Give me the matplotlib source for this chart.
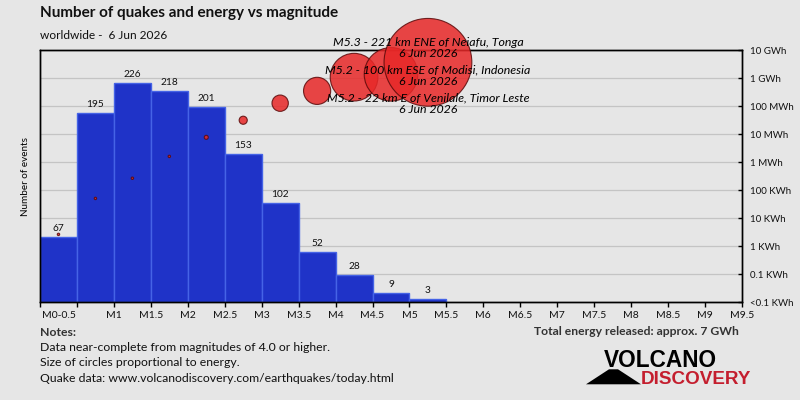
"""Number of quakes and energy vs magnitude (worldwide, 6 Jun 2026)."""

import numpy as np
import matplotlib.pyplot as plt
from matplotlib.patches import Polygon

BG = "#e6e6e6"
BAR_FACE = "#1f33c8"
BAR_EDGE = "#4563e6"
BUBBLE_FACE = "#e82828"
BUBBLE_EDGE = "#5a0a0a"
LOGO_RED = "#c41e2e"

BIN_STARTS = [0.0, 0.5, 1.0, 1.5, 2.0, 2.5, 3.0, 3.5, 4.0, 4.5, 5.0]
COUNTS = [67, 195, 226, 218, 201, 153, 102, 52, 28, 9, 3]
# energy released per magnitude bin, kWh
ENERGY_KWH = [2.6, 50, 263, 1585, 7600, 31000, 126000, 347000, 1070000, 1350000, 3630000]

XTICKS = [i * 0.5 for i in range(20)]
XTICK_LABELS = ["", ""] + [f"M{m:g}" for m in XTICKS[2:]]
FIRST_BIN_LABEL = "M0-0.5"
ENERGY_LABELS = ["<0.1 KWh", "0.1 KWh", "1 KWh", "10 KWh", "100 KWh",
                 "1 MWh", "10 MWh", "100 MWh", "1 GWh", "10 GWh"]

QUAKE_LABELS = [
    "M5.3 - 221 km ENE of Neiafu, Tonga\n6 Jun 2026",
    "M5.2 - 100 km ESE of Modisi, Indonesia\n6 Jun 2026",
    "M5.2 - 22 km E of Venilale, Timor Leste\n6 Jun 2026",
]
TOTAL_ENERGY = "Total energy released: approx. 7 GWh"
NOTES = [
    "Data near-complete from magnitudes of 4.0 or higher.",
    "Size of circles proportional to energy.",
    "Quake data: www.volcanodiscovery.com/earthquakes/today.html",
]

plt.rcParams["font.family"] = ["Lato", "DejaVu Sans"]

fig = plt.figure(figsize=(8, 4), dpi=100, facecolor=BG)
ax = fig.add_axes([40 / 800, 1 - 302 / 400, 702 / 800, 252 / 400])
ax.set_facecolor(BG)

# histogram of counts
ax.bar(BIN_STARTS, COUNTS, width=0.5, align="edge", color=BAR_FACE,
       edgecolor=BAR_EDGE, linewidth=1.0, zorder=2)
for x0, n in zip(BIN_STARTS, COUNTS):
    ax.text(x0 + 0.25, n + 4, str(n), ha="center", va="bottom", fontsize=7.3,
            color="#111111", zorder=3)

ax.set_xlim(0, 9.5)
ax.set_ylim(0, 260)
ax.set_yticks(np.linspace(0, 260, 10))
ax.set_yticklabels([])
ax.tick_params(axis="y", length=0)
ax.grid(axis="y", color="#c4c4c4", linewidth=0.9)
ax.set_axisbelow(True)
ax.set_xticks(XTICKS)
ax.set_xticklabels(XTICK_LABELS, fontsize=7.5, color="#111111")
ax.set_xticks([0.25], [FIRST_BIN_LABEL], minor=True, fontsize=7.5, color="#111111")
ax.tick_params(axis="x", which="major", direction="out", length=3.5, width=1, pad=3)
ax.tick_params(axis="x", which="minor", length=0, pad=6.5)
ax.set_ylabel("Number of events", fontsize=7.1, labelpad=4)
for sp in ax.spines.values():
    sp.set_color("black")
    sp.set_linewidth(1)

# energy bubbles on a log scale (position = log10(kWh) + 2)
ax2 = ax.twinx()
ax2.set_ylim(0, 9)
ax2.set_yticks(range(10))
ax2.set_yticklabels(ENERGY_LABELS, fontsize=7, color="#111111")
ax2.tick_params(axis="y", direction="in", length=3, width=1, pad=6)
for sp in ax2.spines.values():
    sp.set_color("black")
    sp.set_linewidth(1)

energy = np.array(ENERGY_KWH, dtype=float)
bubble_y = np.log10(energy) + 2
bubble_x = np.array(BIN_STARTS) + 0.25
sizes = np.maximum(energy * 1.1e-3, 3.0)
ax2.scatter(bubble_x, bubble_y, s=sizes, facecolor=BUBBLE_FACE, alpha=0.85,
            edgecolor=BUBBLE_EDGE, linewidth=0.8, zorder=4, clip_on=False)

for i, lab in enumerate(QUAKE_LABELS):
    ax2.text(5.25, 9.08 - i, lab, ha="center", va="center", fontsize=8.9,
             style="italic", linespacing=1.05, zorder=5, clip_on=False)

# titles and notes
fig.text(40 / 800, 1 - 12.5 / 400, "Number of quakes and energy vs magnitude",
         fontsize=11, fontweight="bold", va="center", color="#111111")
fig.text(40 / 800, 1 - 35.5 / 400, "worldwide -  6 Jun 2026",
         fontsize=8.6, va="center", color="#111111")
fig.text(40 / 800, 1 - 332 / 400, "Notes:", fontsize=8.8, fontweight="bold",
         va="center", color="#333333")
for i, line in enumerate(NOTES):
    fig.text(40 / 800, 1 - (347.5 + i * 15.5) / 400, line, fontsize=8.8,
             va="center", color="#111111")
fig.text(739 / 800, 1 - 331.5 / 400, TOTAL_ENERGY, fontsize=8.7,
         fontweight="bold", ha="right", va="center", color="#333333")

# logo
fig.add_artist(Polygon(
    [(586 / 800, 1 - 384.3 / 400), (609 / 800, 1 - 369.3 / 400),
     (618 / 800, 1 - 369.3 / 400), (641 / 800, 1 - 384.3 / 400)],
    closed=True, facecolor="black", edgecolor="none", transform=fig.transFigure))
fig.text(604 / 800, 1 - 367.3 / 400, "VOLCANO", family="Liberation Sans",
         fontsize=16.3, fontweight="bold", va="baseline", color="black")
fig.text(641 / 800, 1 - 384.3 / 400, "DISCOVERY", family="Liberation Sans",
         fontsize=13.6, fontweight="bold", va="baseline", color=LOGO_RED)

fig.savefig("out.png", dpi=100, facecolor=BG)
